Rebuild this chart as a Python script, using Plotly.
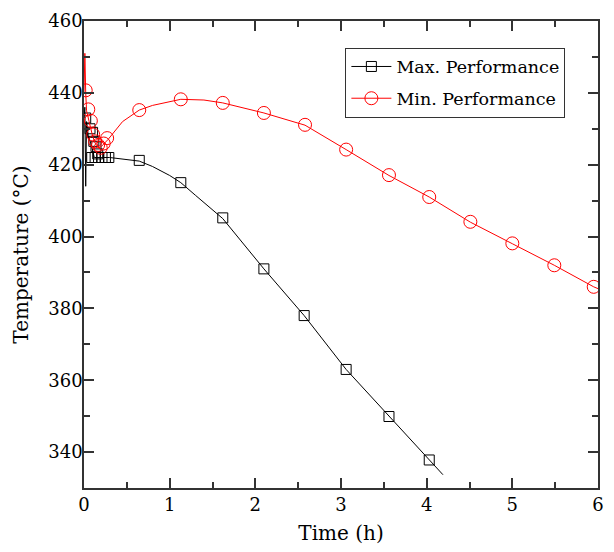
import plotly.graph_objects as go

# Max. Performance: line samples (time h, temperature °C)
max_line_t = [0.0, 0.01, 0.02, 0.03, 0.05, 0.08, 0.10, 0.12, 0.20, 0.30, 0.645, 0.80, 1.00, 1.13, 1.30, 1.62, 2.10, 2.57, 3.06, 3.56, 4.03, 4.19]
max_line_T = [433, 436, 414, 432, 428, 426, 424, 422, 422, 422, 421, 419.5, 417, 415, 411.5, 405, 391, 378, 363, 350, 338, 333.7]
# Max. Performance: marker samples
max_mark_t = [0.02, 0.07, 0.10, 0.115, 0.14, 0.16, 0.09, 0.13, 0.17, 0.21, 0.25, 0.29, 0.645, 1.13, 1.62, 2.10, 2.57, 3.06, 3.56, 4.03]
max_mark_T = [433, 430, 429, 426.5, 425, 423, 422, 422, 422, 422, 422, 422, 421.2, 415, 405.2, 391, 378, 363, 349.9, 337.8]

# Min. Performance: line samples
min_line_t = [0.0, 0.01, 0.02, 0.03, 0.06, 0.10, 0.13, 0.17, 0.20, 0.28, 0.45, 0.645, 0.80, 1.13, 1.40, 1.62, 2.10, 2.58, 3.06, 3.56, 4.03, 4.51, 5.00, 5.49, 5.95, 6.00]
min_line_T = [440, 451, 440, 435, 432, 428, 426, 424.7, 425, 427, 432, 435.2, 436.5, 438.2, 438, 437.2, 434.4, 431, 424.2, 417, 411, 404, 398, 392, 386, 385.5]
# Min. Performance: marker samples
min_mark_t = [0.02, 0.05, 0.08, 0.107, 0.13, 0.165, 0.195, 0.23, 0.27, 0.645, 1.13, 1.62, 2.10, 2.58, 3.06, 3.56, 4.03, 4.51, 5.00, 5.49, 5.95]
min_mark_T = [440.7, 435.4, 432.2, 428.4, 426.5, 425.5, 424.7, 425.9, 427.4, 435.2, 438.2, 437.2, 434.4, 431.1, 424.2, 417.1, 411, 404.1, 398.1, 392, 386]

x_ticks = [0, 1, 2, 3, 4, 5, 6]
y_ticks = [340, 360, 380, 400, 420, 440, 460]

BLACK = "#000000"
RED = "#ff0000"
AX = "#333333"
FONT = "DejaVu Serif"

fig = go.Figure()
fig.add_trace(go.Scatter(x=max_line_t, y=max_line_T, mode="lines",
                         line=dict(color=BLACK, width=1), showlegend=False))
fig.add_trace(go.Scatter(x=max_mark_t, y=max_mark_T, mode="markers",
                         marker=dict(symbol="square-open", size=10, color=BLACK, line=dict(width=1)),
                         showlegend=False))
fig.add_trace(go.Scatter(x=min_line_t, y=min_line_T, mode="lines",
                         line=dict(color=RED, width=1), showlegend=False))
fig.add_trace(go.Scatter(x=min_mark_t, y=min_mark_T, mode="markers",
                         marker=dict(symbol="circle-open", size=13, color=RED, line=dict(width=1)),
                         showlegend=False))
# legend entries
fig.add_trace(go.Scatter(x=[None], y=[None], mode="lines+markers", name="Max. Performance",
                         legendgroup="max",
                         line=dict(color=BLACK, width=1),
                         marker=dict(symbol="square-open", size=10, color=BLACK)))
fig.add_trace(go.Scatter(x=[None], y=[None], mode="lines+markers", name="Min. Performance",
                         legendgroup="min",
                         line=dict(color=RED, width=1),
                         marker=dict(symbol="circle-open", size=13, color=RED)))

axis_common = dict(showline=True, linecolor=AX, linewidth=1.5, mirror="allticks",
                   ticks="inside", ticklen=10, tickcolor=AX, tickwidth=1.5,
                   showgrid=False, zeroline=False,
                   tickfont=dict(family=FONT, size=18, color=BLACK))

fig.update_xaxes(range=[0, 6], tickvals=x_ticks, ticktext=[str(v) for v in x_ticks],
                 title=dict(text="Time (h)", font=dict(family=FONT, size=20, color=BLACK), standoff=12),
                 minor=dict(dtick=0.5, ticks="inside", ticklen=6, tickcolor=AX, tickwidth=1.5),
                 **axis_common)
fig.update_yaxes(range=[330, 460], tickvals=y_ticks, ticktext=[str(v) for v in y_ticks],
                 ticklabelstandoff=-4,
                 title=dict(text="Temperature (°C)", font=dict(family=FONT, size=20, color=BLACK), standoff=14),
                 minor=dict(dtick=10, tick0=330, ticks="inside", ticklen=6, tickcolor=AX, tickwidth=1.5),
                 **axis_common)

fig.update_layout(
    width=614, height=552,
    margin=dict(l=84, r=10, t=14, b=64),
    paper_bgcolor="white", plot_bgcolor="white",
    font=dict(family=FONT, size=17, color=BLACK),
    legend=dict(x=(571 - 84) / 520.0, xanchor="right", y=1 - (41 - 14) / 474.0, yanchor="top",
                bgcolor="white", bordercolor=AX, borderwidth=1,
                font=dict(family=FONT, size=17.5, color=BLACK), tracegroupgap=6,
                itemwidth=40),
)

fig.write_html("out.html")
